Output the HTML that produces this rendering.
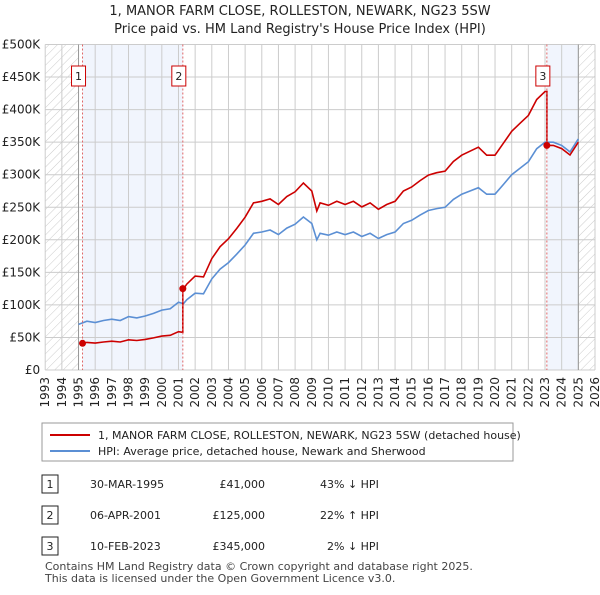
<!DOCTYPE html>
<html><head><meta charset="utf-8"><style>
body{margin:0;background:#fff;font-family:"Liberation Sans","DejaVu Sans",sans-serif;}
svg text{font-family:"DejaVu Sans","Liberation Sans",sans-serif;}
</style></head><body>
<svg width="600" height="590" xmlns="http://www.w3.org/2000/svg" id="chart">
<defs><pattern id="hatch" width="6" height="6" patternUnits="userSpaceOnUse" patternTransform="rotate(45)"><line x1="0" y1="0" x2="0" y2="6" stroke="#ccc" stroke-width="1"/></pattern></defs>
<text x="300" y="15" text-anchor="middle" font-size="13" fill="#222">1, MANOR FARM CLOSE, ROLLESTON, NEWARK, NG23 5SW</text>
<text x="300" y="33" text-anchor="middle" font-size="13" fill="#222">Price paid vs. HM Land Registry's House Price Index (HPI)</text>
<g id="plot"></g>
<g>
<rect x="42" y="423" width="471" height="38" fill="#fff" stroke="#999"/>
<line x1="50" y1="435" x2="90" y2="435" stroke="#cc0000" stroke-width="2"/>
<text x="98" y="439" font-size="11" fill="#222">1, MANOR FARM CLOSE, ROLLESTON, NEWARK, NG23 5SW (detached house)</text>
<line x1="50" y1="451" x2="90" y2="451" stroke="#5b8fd4" stroke-width="2"/>
<text x="98" y="455" font-size="11" fill="#222">HPI: Average price, detached house, Newark and Sherwood</text>
</g>
<g font-size="11" fill="#222">
<rect x="42" y="475" width="16" height="18" fill="#fff" stroke="#222"/><text x="50" y="488" text-anchor="middle">1</text>
<text x="90" y="488">30-MAR-1995</text><text x="265" y="488" text-anchor="end">£41,000</text><text x="320" y="488">43% ↓ HPI</text>
<rect x="42" y="506" width="16" height="18" fill="#fff" stroke="#222"/><text x="50" y="519" text-anchor="middle">2</text>
<text x="90" y="519">06-APR-2001</text><text x="265" y="519" text-anchor="end">£125,000</text><text x="320" y="519">22% ↑ HPI</text>
<rect x="42" y="537" width="16" height="18" fill="#fff" stroke="#222"/><text x="50" y="550" text-anchor="middle">3</text>
<text x="90" y="550">10-FEB-2023</text><text x="265" y="550" text-anchor="end">£345,000</text><text x="327" y="550">2% ↓ HPI</text>
</g>
<text x="45" y="570" font-size="11" fill="#444">Contains HM Land Registry data © Crown copyright and database right 2025.</text>
<text x="45" y="582" font-size="11" fill="#444">This data is licensed under the Open Government Licence v3.0.</text>
</svg>
<script>
const hpiYears=[1995.0,1995.5,1996,1996.5,1997,1997.5,1998,1998.5,1999,1999.5,2000,2000.5,2001,2001.3,2001.5,2002,2002.5,2003,2003.5,2004,2004.5,2005,2005.5,2006,2006.5,2007,2007.5,2008,2008.5,2009,2009.3,2009.5,2010,2010.5,2011,2011.5,2012,2012.5,2013,2013.5,2014,2014.5,2015,2015.5,2016,2016.5,2017,2017.5,2018,2018.5,2019,2019.5,2020,2020.5,2021,2021.5,2022,2022.5,2023,2023.5,2024,2024.5,2025];
const hpiValues=[70,75,73,76,78,76,82,80,83,87,92,94,104,102,108,118,117,140,155,165,178,192,210,212,215,208,218,224,235,225,200,210,207,212,208,212,205,210,202,208,212,225,230,238,245,248,250,262,270,275,280,270,270,285,300,310,320,340,350,350,345,335,355];
const saleYears=[1995.24,2001.26,2023.11];
const salePrices=[41000,125000,345000];
const saleLabels=["1","2","3"];
const yTicks=[0,50,100,150,200,250,300,350,400,450,500];
const xTicks=[1993,1994,1995,1996,1997,1998,1999,2000,2001,2002,2003,2004,2005,2006,2007,2008,2009,2010,2011,2012,2013,2014,2015,2016,2017,2018,2019,2020,2021,2022,2023,2024,2025,2026];
const X0=45.2,X1=595,Y0=370,Y1=44.5;
const xs=y=>X0+(y-1993)/33*(X1-X0);
const ys=v=>Y0-v/500000*(Y0-Y1);
const NS="http://www.w3.org/2000/svg";
const g=document.getElementById('plot');
function mk(t,a){const e=document.createElementNS(NS,t);for(const k in a)e.setAttribute(k,a[k]);g.appendChild(e);return e;}
let r=mk('rect',{x:X0,y:Y1,width:xs(1995)-X0,height:Y0-Y1,fill:'url(#hatch)'});


r=mk('rect',{x:xs(2025.0),y:Y1,width:X1-xs(2025.0),height:Y0-Y1,fill:'url(#hatch)'});


r=mk('rect',{x:xs(saleYears[0]),y:Y1,width:xs(saleYears[1])-xs(saleYears[0]),height:Y0-Y1,fill:'#eef3fc',opacity:0.8});


r=mk('rect',{x:xs(saleYears[2]),y:Y1,width:xs(2025.0)-xs(saleYears[2]),height:Y0-Y1,fill:'#eef3fc',opacity:0.8});


yTicks.forEach(v=>{const l=mk('line',{x1:X0,x2:X1,y1:ys(v*1000),y2:ys(v*1000),stroke:'#ccc'});


const t=mk('text',{x:X0-5,y:ys(v*1000)+4,'text-anchor':'end','font-size':12,fill:'#222'});t.textContent=v===0?'£0':'£'+v+'K';

});
xTicks.forEach(y=>{const l=mk('line',{x1:xs(y),x2:xs(y),y1:Y1,y2:Y0,stroke:'#ccc'});


const t=mk('text',{x:0,y:0,'text-anchor':'end','font-size':12,fill:'#222',transform:`translate(${xs(y)+4},${Y0+7}) rotate(-90)`});t.textContent=y;

});
[1995,2025].forEach(y=>{const l=mk('line',{x1:xs(y),x2:xs(y),y1:Y1,y2:Y0,stroke:'#999'});

});
const hp=hpiYears.map((y,i)=>xs(y).toFixed(1)+','+ys(hpiValues[i]*1000).toFixed(1)).join(' ');
let p=mk('polyline',{points:hp,fill:'none',stroke:'#5b8fd4','stroke-width':1.6});


function hpiAt(y){for(let i=1;i<hpiYears.length;i++){if(y<=hpiYears[i]){const f=(y-hpiYears[i-1])/(hpiYears[i]-hpiYears[i-1]);return (hpiValues[i-1]+f*(hpiValues[i]-hpiValues[i-1]))*1000;}}return hpiValues[hpiValues.length-1]*1000;}
let pts=[];
for(let s=0;s<saleYears.length;s++){
 const ratio=salePrices[s]/hpiAt(saleYears[s]);
 const end=s+1<saleYears.length?saleYears[s+1]:2025;
 if(s>0){const prevR=salePrices[s-1]/hpiAt(saleYears[s-1]);pts.push([saleYears[s],hpiAt(saleYears[s])*prevR]);}
 pts.push([saleYears[s],salePrices[s]]);
 hpiYears.forEach((y,i)=>{if(y>saleYears[s]&&y<end)pts.push([y,hpiValues[i]*1000*ratio]);});
 if(s+1===saleYears.length)pts.push([end,hpiAt(end)*ratio]);
}
p=mk('polyline',{points:pts.map(q=>xs(q[0]).toFixed(1)+','+ys(q[1]).toFixed(1)).join(' '),fill:'none',stroke:'#cc0000','stroke-width':1.6});


saleYears.forEach((y,i)=>{
 const l=mk('line',{x1:xs(y),x2:xs(y),y1:Y1,y2:Y0,stroke:'#e06666','stroke-dasharray':'2,2'});
 
 
 const c=mk('circle',{cx:xs(y),cy:ys(salePrices[i]),r:3.5,fill:'#cc0000'});
 
 
 const b=mk('rect',{x:xs(y)-11,y:66,width:14,height:20,fill:'#fff',stroke:'#cc0000'});
 
 
 const t=mk('text',{x:xs(y)-4,y:80,'text-anchor':'middle','font-size':11,fill:'#222'});t.textContent=saleLabels[i];
 
 
});
</script>
</body></html>
